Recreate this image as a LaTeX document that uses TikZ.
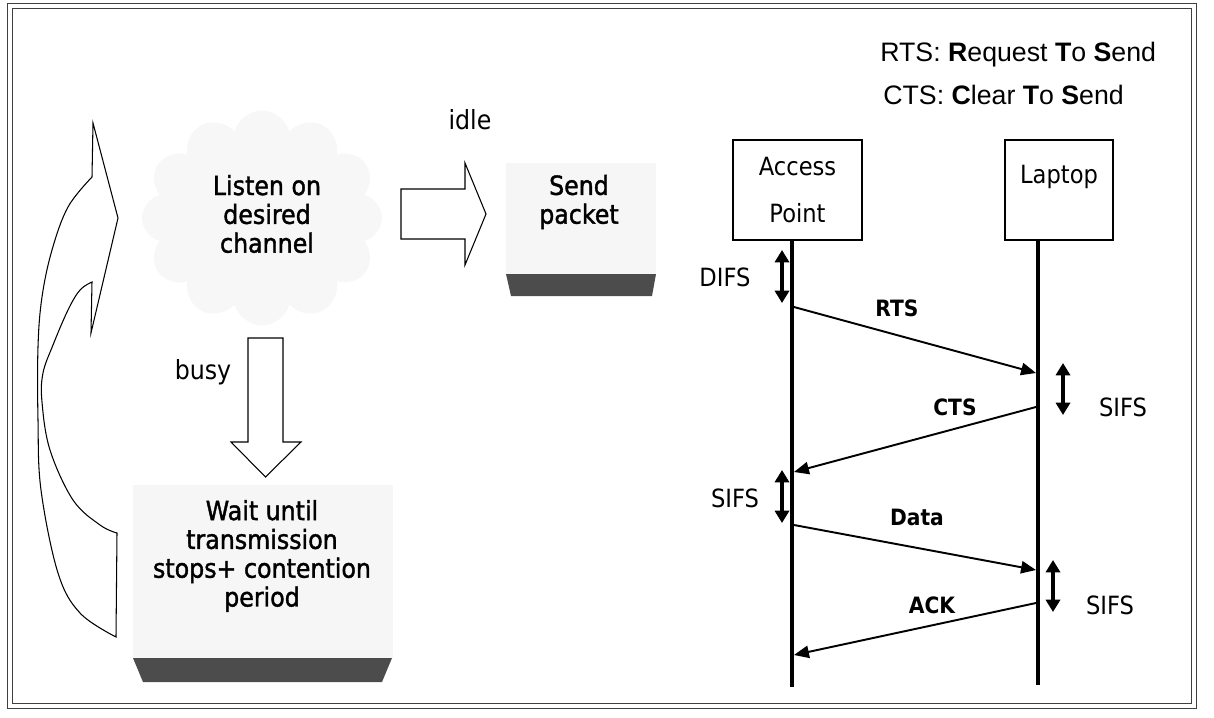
\documentclass[tikz,border=0pt]{standalone}
\usepackage{fontspec}
\setmainfont{DejaVu Sans}[FakeStretch=0.9]
\newfontfamily\boxfont{DejaVu Sans}[FakeStretch=0.9, FakeBold=1.5]
\newfontfamily\hdrfont{Liberation Sans}
\usetikzlibrary{arrows.meta,shapes.symbols}
\tikzset{
  txt/.style={font=\fontsize{15}{16.4}\selectfont, align=center, inner sep=0pt},
  boxtxt/.style={txt, font=\boxfont\fontsize{15}{16.4}\selectfont},
  seqtxt/.style={font=\fontsize{14.3}{16}\selectfont, inner sep=0pt},
  msgtxt/.style={font=\fontsize{12.8}{14}\selectfont\bfseries, inner sep=0pt},
  hdrtxt/.style={font=\hdrfont\fontsize{15.2}{17}\selectfont, anchor=west, inner sep=0pt},
  station/.style={draw, line width=1pt, align=center, inner sep=0pt,
    font=\fontsize{14.3}{26.6}\selectfont},
  blockarrow/.style={draw, line width=0.6pt, fill=white},
  lifeline/.style={line width=2.3pt},
  msg/.style={->, line width=1.1pt},
  gaparrow/.style={<->, >={Triangle[length=7pt,width=8pt]}, line width=1.8pt},
  speckle/.style={fill=gray!7},
  band/.style={fill=black!70},
}
\begin{document}
\begin{tikzpicture}[x=0.02cm,y=-0.02cm,>={Triangle[length=8.5pt,width=7pt]}]
\useasboundingbox (0,0) rectangle (1214,717);
\draw[black!75, line width=0.6pt, double, double distance=2.4pt] (10,6) rectangle (1194,706);

% loop back arrow
\draw[blockarrow] plot[smooth, tension=0.6] coordinates {(116,637) (80,613) (58,573) (41,490) (38,420) (38,347) (42,297) (52,250) (68,207) (92,177)}
  -- (93,123) -- (118,218) -- (91,333)
  -- plot[smooth, tension=0.6] coordinates {(92,282) (80,290) (68,310) (53,345) (43,373) (42,402) (50,450) (73,500) (100,525) (117,533)}
  -- cycle;

% listen
\node[cloud, cloud puffs=12, aspect=1.1, fill=gray!6, minimum width=4.8cm, minimum height=4.3cm] (listenbg) at (262,218) {};
\node[boxtxt] (listen) at (267,214) {Listen on\\desired\\channel};

% idle
\draw[blockarrow] (401,189) -- (465,189) -- (465,163) -- (486,214) -- (465,265) -- (465,239) -- (401,239) -- cycle;
\node[txt] (idle) at (470,120) {idle};
\fill[speckle] (506,163) rectangle (656,274);
\fill[band] (506,274) -- (656,274) -- (652,296) -- (511,296) -- cycle;
\node[boxtxt] (send) at (579,202) {Send\\packet};

% busy
\draw[blockarrow] (248,338) -- (283,338) -- (283,442) -- (301,442) -- (265.5,477) -- (231,442) -- (248,442) -- cycle;
\node[txt] (busy) at (203,372) {busy};
\fill[speckle] (133,485) rectangle (393,658);
\fill[band] (133,658) -- (392,658) -- (382,682) -- (143,682) -- cycle;
\node[boxtxt] (wait) at (262,556) {Wait until\\transmission\\stops+ contention\\period};

% legend
\node[hdrtxt] (rtsdef) at (880,55) {RTS: \textbf{R}equest \textbf{T}o \textbf{S}end};
\node[hdrtxt] (ctsdef) at (883,95) {CTS: \textbf{C}lear \textbf{T}o \textbf{S}end};

% stations
\node[station, minimum width=2.58cm, minimum height=2cm] (ap) at (797.5,190) {Access\\Point};
\node[station, minimum width=2.16cm, minimum height=2cm, text depth=18pt] (laptop) at (1059,190) {Laptop};
\coordinate (aptop) at (792,240);
\coordinate (apbot) at (792,687);
\coordinate (lptop) at (1038,240);
\coordinate (lpbot) at (1038,685);
\draw[lifeline] (aptop) -- (apbot);
\draw[lifeline] (lptop) -- (lpbot);

% frames
\coordinate (rtsA) at (794,307);
\coordinate (rtsB) at (1036,373);
\coordinate (ctsA) at (1036,407);
\coordinate (ctsB) at (794,472);
\coordinate (dataA) at (794,525);
\coordinate (dataB) at (1036,570);
\coordinate (ackA) at (1036,603);
\coordinate (ackB) at (794,655);
\draw[msg] (rtsA) -- (rtsB);
\draw[msg] (ctsA) -- (ctsB);
\draw[msg] (dataA) -- (dataB);
\draw[msg] (ackA) -- (ackB);
\node[msgtxt] (rtslbl) at (897,308) {RTS};
\node[msgtxt] (ctslbl) at (955,407) {CTS};
\node[msgtxt] (datalbl) at (917,517) {Data};
\node[msgtxt] (acklbl) at (932,605) {ACK};

% inter frame spaces
\coordinate (difsA) at (782,250);
\coordinate (difsB) at (782,303);
\coordinate (sifsA) at (1063,363);
\coordinate (sifsB) at (1063,415);
\coordinate (sifsC) at (782,470);
\coordinate (sifsD) at (782,523);
\coordinate (sifsE) at (1053,560);
\coordinate (sifsF) at (1053,612);
\draw[gaparrow] (difsA) -- (difsB);
\draw[gaparrow] (sifsA) -- (sifsB);
\draw[gaparrow] (sifsC) -- (sifsD);
\draw[gaparrow] (sifsE) -- (sifsF);
\node[seqtxt] (difslbl) at (725,277) {DIFS};
\node[seqtxt] (sifslbl1) at (1123,407) {SIFS};
\node[seqtxt] (sifslbl2) at (735,498) {SIFS};
\node[seqtxt] (sifslbl3) at (1110,605) {SIFS};
\end{tikzpicture}
\end{document}
